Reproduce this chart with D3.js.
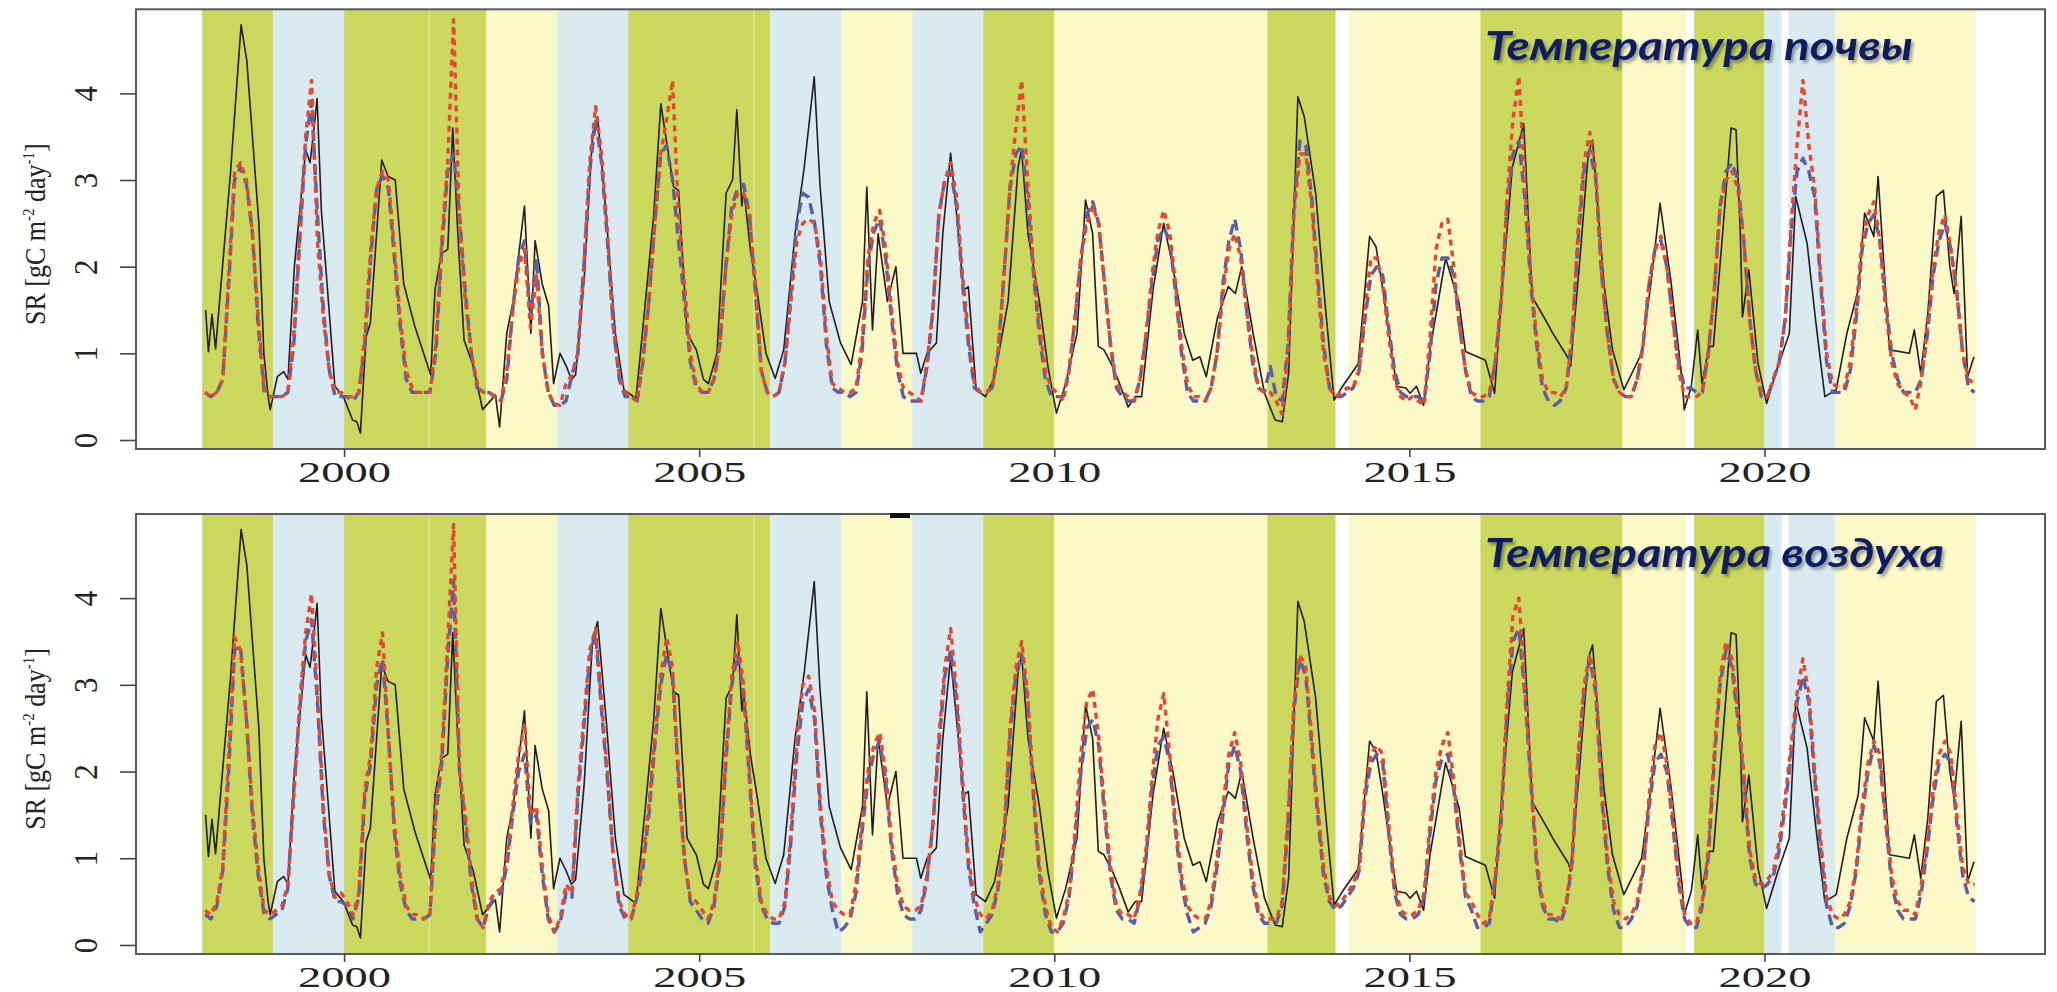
<!DOCTYPE html>
<html>
<head>
<meta charset="utf-8">
<script src="https://cdn.jsdelivr.net/npm/d3@7"></script>
<style>
  html, body { margin: 0; padding: 0; background: #fff; overflow: hidden; }
  svg { display: block; }
</style>
</head>
<body>
<svg id="chart" width="2057" height="992"></svg>
<script>
// ---- Axis ticks and labels ----
const xTickYears = [2000, 2005, 2010, 2015, 2020];
const yTickValues = [0, 1, 2, 3, 4];
const panelTitles = ["Температура почвы", "Температура воздуха"];
const firstYear = 1998;

// ---- Background periods: [start, end, class] ----
const periods = [
  [1998, 1999, "I"], [1999, 2000, "II"], [2000, 2001.2, "I"], [2001.2, 2002, "I"],
  [2002, 2003, "III"], [2003, 2004, "II"], [2004, 2005.77, "I"], [2005.77, 2006, "I"],
  [2006, 2007, "II"], [2007, 2008, "III"], [2008, 2009, "II"], [2009, 2010, "I"],
  [2010, 2013, "III"], [2013, 2013.96, "I"], [2014.15, 2016, "III"], [2016, 2018, "I"],
  [2018, 2018.9, "III"], [2019.01, 2020, "I"], [2020, 2020.24, "II"], [2020.34, 2021, "II"],
  [2021, 2022.98, "III"]
];

// ---- Measured soil respiration: [decimal year, SR] ----
const observedSR = [
  [1998.05,1.50],[1998.09,1.02],[1998.14,1.45],[1998.19,1.05],[1998.40,3.08],[1998.55,4.79],[1998.63,4.38],
  [1998.80,2.50],[1998.87,1.00],[1998.93,0.50],[1998.96,0.35],[1999.06,0.73],[1999.15,0.79],[1999.21,0.70],
  [1999.30,2.00],[1999.46,3.35],[1999.52,3.20],[1999.55,3.40],[1999.62,3.94],[1999.68,2.65],[1999.77,1.70],
  [1999.87,0.62],[1999.99,0.50],[2000.12,0.23],[2000.18,0.21],[2000.23,0.08],[2000.31,1.19],[2000.37,1.35],
  [2000.53,3.23],[2000.62,3.04],[2000.72,3.00],[2000.84,1.80],[2001.00,1.30],[2001.22,0.75],[2001.28,1.73],
  [2001.37,2.15],[2001.46,2.20],[2001.53,3.60],[2001.60,2.40],[2001.69,1.15],[2001.82,0.85],[2001.95,0.35],
  [2002.07,0.46],[2002.13,0.52],[2002.19,0.15],[2002.29,1.23],[2002.38,1.60],[2002.54,2.70],[2002.63,1.23],
  [2002.69,2.30],[2002.79,1.80],[2002.88,1.55],[2002.95,0.65],[2003.04,1.00],[2003.13,0.85],[2003.20,0.70],
  [2003.26,0.75],[2003.38,1.85],[2003.50,3.54],[2003.57,3.73],[2003.69,2.60],[2003.82,1.23],[2003.94,0.58],
  [2004.11,0.48],[2004.20,1.23],[2004.36,2.60],[2004.46,3.88],[2004.58,3.23],[2004.64,2.92],[2004.71,2.88],
  [2004.83,1.23],[2004.96,1.04],[2005.06,0.70],[2005.13,0.65],[2005.25,1.00],[2005.38,2.85],[2005.47,3.00],
  [2005.53,3.81],[2005.60,2.70],[2005.63,2.88],[2005.72,2.20],[2005.82,1.69],[2005.94,1.00],[2006.07,0.71],
  [2006.19,1.04],[2006.35,2.38],[2006.48,3.15],[2006.62,4.19],[2006.70,2.96],[2006.83,1.60],[2006.99,1.12],
  [2007.14,0.87],[2007.30,1.60],[2007.36,2.92],[2007.44,1.27],[2007.52,2.38],[2007.65,1.60],[2007.77,2.00],
  [2007.87,1.00],[2007.96,1.00],[2008.06,1.00],[2008.12,0.77],[2008.21,1.00],[2008.34,1.12],[2008.43,2.38],
  [2008.54,3.31],[2008.65,2.38],[2008.72,1.73],[2008.79,1.77],[2008.90,0.58],[2009.03,0.50],[2009.16,0.73],
  [2009.35,1.60],[2009.49,3.15],[2009.54,3.35],[2009.63,2.38],[2009.79,1.60],[2009.91,0.85],[2010.03,0.31],
  [2010.16,0.65],[2010.32,1.23],[2010.44,2.77],[2010.54,2.38],[2010.62,1.08],[2010.70,1.04],[2010.82,0.85],
  [2010.92,0.65],[2011.04,0.38],[2011.14,0.50],[2011.23,0.50],[2011.39,1.73],[2011.54,2.50],[2011.67,2.00],
  [2011.83,1.23],[2011.95,0.92],[2012.05,0.96],[2012.14,0.73],[2012.30,1.42],[2012.45,1.77],[2012.55,1.69],
  [2012.64,2.00],[2012.80,1.23],[2012.96,0.54],[2013.11,0.23],[2013.21,0.21],[2013.30,0.77],[2013.43,3.96],
  [2013.52,3.73],[2013.68,2.85],[2013.81,1.60],[2013.94,0.46],[2014.06,0.62],[2014.28,0.88],[2014.44,2.35],
  [2014.53,2.23],[2014.62,1.77],[2014.82,0.62],[2014.95,0.60],[2015.01,0.54],[2015.10,0.62],[2015.20,0.40],
  [2015.29,1.04],[2015.51,2.10],[2015.70,1.58],[2015.79,1.02],[2016.07,0.92],[2016.20,0.54],[2016.30,1.69],
  [2016.45,3.15],[2016.61,3.65],[2016.73,1.65],[2016.92,1.38],[2017.02,1.23],[2017.24,0.94],[2017.27,0.85],
  [2017.40,2.08],[2017.52,3.31],[2017.58,3.46],[2017.74,1.80],[2017.86,1.04],[2018.02,0.58],[2018.27,1.00],
  [2018.40,1.80],[2018.53,2.73],[2018.68,1.85],[2018.84,0.69],[2018.87,0.35],[2018.97,0.62],[2019.06,1.27],
  [2019.12,0.65],[2019.22,1.08],[2019.28,1.08],[2019.41,2.38],[2019.53,3.60],[2019.60,3.58],[2019.66,2.38],
  [2019.69,1.42],[2019.78,1.96],[2019.91,0.88],[2020.03,0.42],[2020.19,0.85],[2020.35,1.23],[2020.44,2.81],
  [2020.60,2.27],[2020.72,1.38],[2020.85,0.50],[2021.01,0.58],[2021.16,1.23],[2021.32,1.73],[2021.41,2.62],
  [2021.54,2.35],[2021.60,3.04],[2021.76,1.04],[2022.04,1.00],[2022.11,1.27],[2022.20,0.77],[2022.30,1.46],
  [2022.42,2.81],[2022.52,2.88],[2022.61,2.00],[2022.67,1.69],[2022.77,2.58],[2022.86,0.73],[2022.95,0.96]
];

// ---- Modelled SR, monthly (Jan..Dec) per year from 1998 ----
// soil temperature driven, model A (red dotted)
const soilModelA = [
  [0.55,0.50,0.55,0.70,1.90,3.10,3.20,3.00,2.40,1.40,0.60,0.50],
  [0.50,0.50,0.55,1.20,2.40,3.50,4.15,2.30,1.40,0.80,0.55,0.55],
  [0.50,0.50,0.55,1.20,2.20,2.90,3.10,3.00,2.20,1.40,0.80,0.60],
  [0.55,0.55,0.55,1.10,2.30,3.20,4.85,2.50,1.60,1.00,0.65,0.55],
  [0.55,0.50,0.45,0.80,1.50,2.00,2.20,1.30,1.90,1.00,0.55,0.42],
  [0.40,0.65,0.75,1.00,2.00,3.20,3.85,3.30,2.40,1.30,0.75,0.55],
  [0.50,0.45,0.95,1.60,2.50,3.30,3.70,4.15,2.60,1.80,1.00,0.65],
  [0.55,0.55,0.70,1.10,2.00,2.60,2.85,2.85,2.60,1.80,0.80,0.55],
  [0.50,0.55,0.90,1.60,2.30,2.50,2.55,2.50,2.10,1.20,0.65,0.60],
  [0.55,0.55,0.60,1.10,2.10,2.50,2.65,2.20,1.50,0.90,0.60,0.55],
  [0.50,0.45,0.90,1.50,2.60,3.00,3.20,2.80,1.90,1.20,0.65,0.55],
  [0.55,0.60,1.00,1.90,2.90,3.60,4.15,3.00,2.00,1.30,0.80,0.60],
  [0.55,0.45,0.80,1.40,2.10,2.50,2.70,2.50,1.80,1.10,0.65,0.55],
  [0.50,0.45,0.70,1.20,1.90,2.40,2.65,2.40,1.80,1.10,0.65,0.50],
  [0.50,0.45,0.60,1.00,1.70,2.20,2.38,2.10,1.50,1.00,0.60,0.55],
  [0.55,0.45,0.30,1.00,2.60,3.30,3.30,2.70,1.80,1.00,0.60,0.50],
  [0.55,0.60,0.60,0.80,1.50,2.10,2.10,1.80,1.20,0.70,0.50,0.45],
  [0.50,0.45,0.40,1.20,2.20,2.50,2.55,2.00,1.30,0.80,0.55,0.50],
  [0.50,0.55,0.90,1.60,2.80,3.70,4.20,3.00,1.90,1.20,0.70,0.55],
  [0.55,0.50,0.60,1.20,2.40,3.20,3.55,3.10,1.90,1.20,0.70,0.55],
  [0.50,0.50,0.70,1.10,1.80,2.20,2.35,2.00,1.40,0.80,0.50,0.50],
  [0.50,0.55,1.00,1.70,2.70,3.00,3.10,2.90,2.30,1.40,0.80,0.55],
  [0.50,0.70,0.90,1.40,2.50,3.40,4.15,3.40,2.90,1.90,1.00,0.65],
  [0.60,0.60,0.90,1.50,2.30,2.60,2.75,2.30,1.50,0.90,0.65,0.55],
  [0.50,0.35,0.70,1.30,2.00,2.40,2.60,2.20,1.70,1.00,0.70,0.65]
];
// soil temperature driven, model B (blue dashed)
const soilModelB = [
  [0.55,0.50,0.55,0.70,1.80,3.00,3.15,2.95,2.40,1.30,0.55,0.50],
  [0.50,0.50,0.55,1.10,2.30,3.40,3.90,2.60,1.50,0.80,0.50,0.50],
  [0.50,0.45,0.55,1.10,2.10,2.90,3.05,2.90,2.10,1.30,0.70,0.55],
  [0.55,0.55,0.55,1.00,2.20,3.10,3.30,2.60,1.70,1.00,0.60,0.55],
  [0.55,0.50,0.45,0.70,1.50,2.10,2.30,1.40,2.10,1.00,0.55,0.40],
  [0.40,0.45,0.75,1.00,2.00,3.10,3.70,3.20,2.30,1.30,0.70,0.50],
  [0.50,0.45,0.90,1.60,2.50,3.30,3.40,3.00,2.30,1.60,0.90,0.60],
  [0.55,0.55,0.70,1.10,2.00,2.70,2.90,2.95,2.60,1.70,0.80,0.55],
  [0.50,0.55,0.90,1.70,2.50,2.85,2.80,2.50,2.00,1.10,0.60,0.55],
  [0.55,0.50,0.55,1.00,2.00,2.40,2.55,2.10,1.40,0.80,0.50,0.45],
  [0.45,0.45,0.85,1.50,2.60,3.00,3.10,2.70,1.80,1.10,0.60,0.55],
  [0.55,0.60,1.00,1.90,2.90,3.30,3.40,2.80,1.90,1.20,0.70,0.50],
  [0.50,0.50,0.80,1.40,2.10,2.60,2.75,2.50,1.80,1.10,0.60,0.50],
  [0.45,0.45,0.70,1.20,1.80,2.30,2.45,2.30,1.70,1.00,0.55,0.45],
  [0.45,0.45,0.60,1.00,1.80,2.30,2.55,2.20,1.50,0.90,0.60,0.55],
  [0.85,0.50,0.45,1.10,2.70,3.45,3.40,2.80,1.90,1.10,0.60,0.50],
  [0.50,0.55,0.60,0.80,1.40,1.90,2.00,1.90,1.30,0.80,0.55,0.50],
  [0.50,0.50,0.45,1.00,1.80,2.10,2.10,1.90,1.30,0.80,0.50,0.45],
  [0.45,0.50,0.90,1.60,2.70,3.30,3.45,2.80,1.80,1.10,0.60,0.45],
  [0.40,0.45,0.60,1.20,2.30,3.10,3.35,3.00,1.90,1.20,0.70,0.55],
  [0.50,0.50,0.70,1.10,1.80,2.20,2.30,2.00,1.40,0.90,0.60,0.60],
  [0.55,0.55,1.00,1.70,2.70,3.10,3.20,3.00,2.30,1.40,0.80,0.50],
  [0.50,0.70,0.90,1.40,2.40,3.10,3.25,3.10,2.80,1.80,0.90,0.55],
  [0.55,0.55,0.80,1.40,2.20,2.50,2.60,2.30,1.60,1.00,0.70,0.55],
  [0.55,0.55,0.70,1.20,1.90,2.30,2.50,2.20,1.70,1.00,0.60,0.55]
];
// air temperature driven, model A (red dotted)
const airModelA = [
  [0.40,0.35,0.50,0.90,2.20,3.55,3.40,2.60,1.60,0.90,0.40,0.35],
  [0.40,0.45,0.70,1.70,2.80,3.60,4.05,2.90,1.60,0.80,0.55,0.60],
  [0.50,0.35,0.60,1.80,2.20,3.20,3.60,2.40,1.40,0.80,0.45,0.35],
  [0.35,0.30,0.35,1.60,2.20,3.50,4.85,2.00,1.50,0.80,0.30,0.20],
  [0.50,0.60,0.65,1.00,1.60,2.20,2.55,1.50,1.60,0.90,0.35,0.15],
  [0.30,0.70,0.60,1.80,2.60,3.40,3.65,2.80,2.00,1.00,0.50,0.35],
  [0.30,0.60,1.00,1.60,2.40,3.10,3.55,3.20,2.00,1.00,0.55,0.50],
  [0.40,0.30,0.50,1.00,2.20,3.10,3.50,3.00,2.00,1.00,0.50,0.35],
  [0.30,0.30,0.50,1.30,2.40,3.00,3.10,2.70,1.60,0.90,0.50,0.40],
  [0.35,0.35,0.70,1.40,2.00,2.30,2.45,2.00,1.20,0.70,0.45,0.40],
  [0.40,0.45,0.80,1.40,2.40,3.20,3.65,2.90,1.90,1.00,0.55,0.35],
  [0.30,0.40,0.70,1.30,2.50,3.20,3.50,2.90,1.80,0.90,0.45,0.20],
  [0.15,0.30,0.60,1.30,2.20,2.80,2.95,2.40,1.60,0.90,0.45,0.35],
  [0.35,0.30,0.60,1.10,1.90,2.60,2.90,2.20,1.40,0.80,0.45,0.35],
  [0.30,0.30,0.50,1.00,1.60,2.20,2.45,2.10,1.40,0.80,0.40,0.30],
  [0.30,0.30,0.50,1.50,2.80,3.35,3.20,2.40,1.60,0.90,0.55,0.45],
  [0.50,0.60,0.70,0.90,1.80,2.20,2.30,2.20,1.40,0.70,0.40,0.35],
  [0.35,0.40,0.60,1.40,2.00,2.30,2.45,1.90,1.20,0.60,0.50,0.35],
  [0.25,0.30,0.80,1.50,2.80,3.80,4.00,3.00,2.00,1.00,0.50,0.35],
  [0.35,0.30,0.50,1.00,2.20,3.00,3.35,3.00,1.80,1.00,0.50,0.35],
  [0.30,0.35,0.50,0.90,1.70,2.30,2.45,2.10,1.50,0.80,0.35,0.25],
  [0.25,0.50,1.10,2.20,3.10,3.50,3.30,2.70,2.00,1.10,0.75,0.70],
  [0.75,0.85,1.20,1.70,2.30,2.90,3.30,2.90,2.00,1.20,0.55,0.35],
  [0.30,0.35,0.50,0.90,1.60,2.10,2.35,2.20,1.50,0.80,0.50,0.40],
  [0.40,0.35,0.70,1.20,1.80,2.20,2.35,2.20,1.50,0.90,0.70,0.70]
];
// air temperature driven, model B (blue dashed)
const airModelB = [
  [0.35,0.30,0.45,0.85,2.00,3.40,3.45,2.60,1.50,0.80,0.35,0.30],
  [0.35,0.40,0.65,1.80,2.70,3.50,3.75,2.80,1.50,0.80,0.50,0.50],
  [0.45,0.30,0.55,1.70,2.10,3.00,3.30,2.40,1.30,0.70,0.40,0.30],
  [0.30,0.30,0.35,1.50,2.10,3.30,4.20,2.00,1.40,0.70,0.30,0.20],
  [0.45,0.55,0.60,0.90,1.50,2.00,2.20,1.40,1.50,0.80,0.30,0.15],
  [0.25,0.60,0.55,1.70,2.50,3.30,3.60,2.70,1.90,1.00,0.45,0.30],
  [0.30,0.55,0.90,1.50,2.30,3.00,3.35,3.10,1.90,1.00,0.50,0.40],
  [0.30,0.25,0.45,0.95,2.10,3.00,3.35,2.90,1.90,0.90,0.45,0.30],
  [0.25,0.25,0.45,1.20,2.20,2.80,2.95,2.60,1.50,0.80,0.40,0.15],
  [0.20,0.30,0.60,1.30,1.90,2.20,2.35,1.90,1.10,0.60,0.35,0.30],
  [0.30,0.40,0.75,1.40,2.30,3.10,3.40,2.80,1.80,0.90,0.45,0.15],
  [0.25,0.35,0.65,1.20,2.40,3.10,3.35,2.80,1.70,0.80,0.35,0.15],
  [0.15,0.25,0.55,1.20,2.00,2.50,2.60,2.30,1.50,0.80,0.40,0.30],
  [0.30,0.25,0.55,1.00,1.80,2.30,2.40,2.10,1.30,0.70,0.35,0.15],
  [0.20,0.25,0.45,0.90,1.50,2.10,2.30,2.00,1.30,0.70,0.35,0.25],
  [0.25,0.25,0.45,1.40,2.70,3.30,3.10,2.30,1.50,0.80,0.50,0.40],
  [0.45,0.55,0.65,0.85,1.70,2.10,2.20,2.10,1.30,0.60,0.35,0.30],
  [0.30,0.35,0.55,1.30,1.90,2.15,2.20,1.80,1.10,0.55,0.40,0.20],
  [0.20,0.25,0.75,1.40,2.70,3.50,3.65,2.90,1.90,0.90,0.45,0.30],
  [0.30,0.25,0.45,0.95,2.10,2.90,3.30,2.90,1.70,0.90,0.40,0.20],
  [0.20,0.30,0.45,0.85,1.60,2.10,2.20,2.00,1.40,0.70,0.30,0.20],
  [0.20,0.45,1.00,2.10,3.00,3.40,3.20,2.60,1.90,1.00,0.70,0.65],
  [0.70,0.80,1.10,1.60,2.20,2.80,3.10,2.80,1.90,1.10,0.45,0.20],
  [0.20,0.25,0.45,0.85,1.50,2.00,2.30,2.10,1.40,0.70,0.40,0.30],
  [0.30,0.30,0.60,1.10,1.70,2.10,2.20,2.10,1.40,0.80,0.55,0.50]
];

// ---- Styles ----
const periodFill = { I: "#cad85e", II: "#d8eaf0", III: "#fbf8c8" };
const seamColor = "#dbe598";
const colObserved = "#1e1e1e";
const colModelA = "#e9452f";
const colModelB = "#5a5ea8";
const serif = "'Liberation Serif', 'Times New Roman', serif";

// ---- Layout ----
const plotLeft = 136, plotRight = 2045;
const panels = [
  { top: 9.3, bottom: 449, modelA: soilModelA, modelB: soilModelB, title: panelTitles[0], titleY: 60, titleLen: 428 },
  { top: 514, bottom: 954, modelA: airModelA, modelB: airModelB, title: panelTitles[1], titleY: 567, titleLen: 459 }
];

const svg = d3.select("#chart");
const defs = svg.append("defs");

const shadow = defs.append("filter").attr("id", "titleShadow")
  .attr("x", "-5%").attr("y", "-20%").attr("width", "115%").attr("height", "160%");
shadow.append("feDropShadow").attr("dx", 2.5).attr("dy", 3).attr("stdDeviation", 1.6)
  .attr("flood-color", "#000").attr("flood-opacity", 0.35);

const x = d3.scaleLinear().domain([1997.07, 2023.95]).range([plotLeft, plotRight]);

// turn a per-year monthly table into [time, value] pairs
function monthly(table) {
  const pts = [];
  table.forEach((row, yi) => row.forEach((v, m) => pts.push([firstYear + yi + (m + 0.5) / 12, v])));
  return pts;
}

// boundaries where two periods of the same class touch
const seams = periods.slice(1)
  .filter((d, i) => d[0] === periods[i][1] && d[2] === periods[i][2])
  .map(d => d[0]);

panels.forEach((p, pi) => {
  const y = d3.scaleLinear().domain([-0.104, 4.97]).range([p.bottom, p.top]);
  const g = svg.append("g");

  const clipId = "clip" + pi;
  defs.append("clipPath").attr("id", clipId).append("rect")
    .attr("x", plotLeft).attr("y", p.top).attr("width", plotRight - plotLeft).attr("height", p.bottom - p.top);

  // background periods
  g.append("g").selectAll("rect").data(periods).join("rect")
    .attr("x", d => x(d[0]))
    .attr("width", d => x(d[1]) - x(d[0]))
    .attr("y", p.top)
    .attr("height", p.bottom - p.top)
    .attr("fill", d => periodFill[d[2]]);

  g.append("g").selectAll("line").data(seams).join("line")
    .attr("x1", d => x(d)).attr("x2", d => x(d))
    .attr("y1", p.top).attr("y2", p.bottom)
    .attr("stroke", seamColor).attr("stroke-width", 1.5);

  const line = d3.line().x(d => x(d[0])).y(d => y(d[1]));
  const lines = g.append("g").attr("clip-path", `url(#${clipId})`);

  lines.append("path").datum(observedSR).attr("d", line)
    .attr("fill", "none").attr("stroke", colObserved).attr("stroke-width", 1.6)
    .attr("stroke-linejoin", "round");

  lines.append("path").datum(monthly(p.modelB)).attr("d", line)
    .attr("fill", "none").attr("stroke", colModelB).attr("stroke-width", 3.4)
    .attr("stroke-dasharray", "11 6").attr("stroke-linejoin", "round");

  lines.append("path").datum(monthly(p.modelA)).attr("d", line)
    .attr("fill", "none").attr("stroke", colModelA).attr("stroke-width", 3.4)
    .attr("stroke-dasharray", "6 5").attr("stroke-linejoin", "round");

  // frame
  g.append("rect").attr("x", plotLeft).attr("y", p.top)
    .attr("width", plotRight - plotLeft).attr("height", p.bottom - p.top)
    .attr("fill", "none").attr("stroke", "#5a5a5a").attr("stroke-width", 2);

  // x axis
  const xAxis = d3.axisBottom(x).tickValues(xTickYears).tickSize(8).tickFormat(d3.format("d"));
  const gx = g.append("g").attr("transform", `translate(0,${p.bottom})`).call(xAxis);
  gx.select(".domain").remove();
  gx.selectAll(".tick line").attr("stroke", "#444").attr("stroke-width", 1.6);
  gx.selectAll(".tick text")
    .attr("y", 32.5).attr("dy", null)
    .attr("font-family", serif)
    .attr("font-size", 29).attr("fill", "#222")
    .attr("textLength", 93).attr("lengthAdjust", "spacingAndGlyphs");

  // y axis
  const yAxis = d3.axisLeft(y).tickValues(yTickValues).tickSize(16).tickFormat(d3.format("d"));
  const gy = g.append("g").attr("transform", `translate(${plotLeft},0)`).call(yAxis);
  gy.select(".domain").remove();
  gy.selectAll(".tick line").attr("stroke", "#444").attr("stroke-width", 1.6);
  gy.selectAll(".tick text")
    .attr("x", null).attr("dy", null)
    .attr("transform", "translate(-39,0) scale(1.1,1) rotate(-90)")
    .attr("text-anchor", "middle")
    .attr("font-family", serif)
    .attr("font-size", 31).attr("fill", "#222");

  // y axis title
  const ttl = g.append("text")
    .attr("transform", `translate(45,${(p.top + p.bottom) / 2 + 5}) scale(1.15,1) rotate(-90)`)
    .attr("text-anchor", "middle")
    .attr("font-family", serif)
    .attr("font-size", 26).attr("fill", "#222");
  ttl.append("tspan").text("SR [gC m");
  ttl.append("tspan").attr("font-size", 15).attr("dy", -10).text("-2");
  ttl.append("tspan").attr("dy", 10).text(" day");
  ttl.append("tspan").attr("font-size", 15).attr("dy", -10).text("-1");
  ttl.append("tspan").attr("dy", 10).text("]");

  // panel title
  g.append("text")
    .attr("x", 1485).attr("y", p.titleY)
    .attr("font-family", "Lato, 'Open Sans', sans-serif")
    .attr("font-weight", "bold").attr("font-style", "italic")
    .attr("font-size", 41).attr("fill", "#0a1f63")
    .attr("textLength", p.titleLen).attr("lengthAdjust", "spacingAndGlyphs")
    .attr("filter", "url(#titleShadow)")
    .text(p.title);
});

// small dark mark on the upper edge of the lower frame
svg.append("rect").attr("x", 890).attr("y", 513).attr("width", 20).attr("height", 5).attr("fill", "#111");
</script>
</body>
</html>
